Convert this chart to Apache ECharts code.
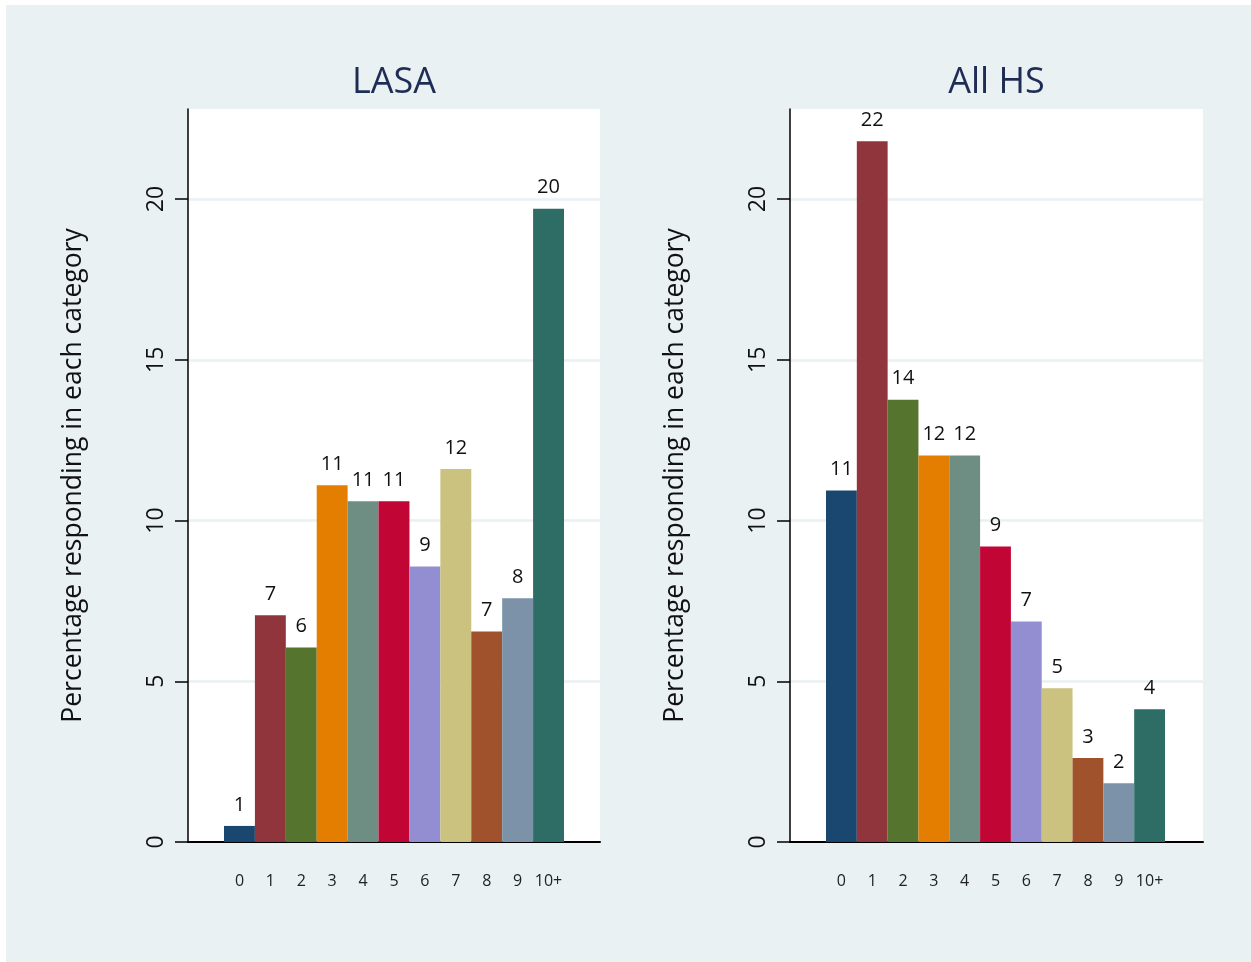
<!DOCTYPE html>
<html>
<head>
<meta charset="utf-8">
<script src="https://cdn.jsdelivr.net/npm/echarts@6/dist/echarts.min.js"></script>
<style>
  html, body { margin: 0; padding: 0; background: #ffffff; }
  #c { position: absolute; left: 6px; top: 5px; width: 1245px; height: 957px; }
</style>
</head>
<body>
<div id="c"></div>
<script>
// ---- data ----
const categories = ['0', '1', '2', '3', '4', '5', '6', '7', '8', '9', '10+'];
const lasaValues = [0.5, 7.05, 6.05, 11.1, 10.6, 10.6, 8.57, 11.6, 6.55, 7.58, 19.7];
const allHsValues = [10.93, 21.8, 13.76, 12.02, 12.02, 9.19, 6.86, 4.78, 2.61, 1.83, 4.13];
const panelTitles = ['LASA', 'All HS'];
const yTicks = [0, 5, 10, 15, 20];
const barColors = ['#1a476f', '#90353b', '#55752f', '#e37e00', '#6e8e84', '#c10534',
                   '#938dd2', '#cac27e', '#a0522d', '#7b92a8', '#2d6d66'];
const yName = 'Percentage responding in each category';

const FONT = 'Open Sans';
const YMAX = 22.8;

const chart = echarts.init(document.getElementById('c'));

const outerGrids = [
  { left: 182, top: 104, width: 412, height: 733 },
  { left: 784, top: 104, width: 413, height: 733 }
];
const innerGrids = [
  { left: 218, top: 104, width: 340, height: 733 },
  { left: 820, top: 104, width: 339, height: 733 }
];

const grid = [], xAxis = [], yAxis = [], series = [], title = [];
const panelData = [lasaValues, allHsValues];

for (let p = 0; p < 2; p++) {
  const og = outerGrids[p], ig = innerGrids[p];
  grid.push(Object.assign({ show: true, backgroundColor: '#ffffff', borderWidth: 0 }, og));
  grid.push(Object.assign({ show: false }, ig));
  const oi = p * 2, ii = p * 2 + 1;
  // outer axes
  xAxis.push({
    gridIndex: oi, type: 'value', min: 0, max: 1,
    axisLine: { show: true, lineStyle: { color: '#000', width: 2 } },
    axisTick: { show: false }, axisLabel: { show: false }, splitLine: { show: false }
  });
  yAxis.push({
    gridIndex: oi, type: 'value', min: 0, max: YMAX,
    name: yName, nameLocation: 'middle', nameRotate: 90, nameGap: 101,
    nameTextStyle: { fontFamily: FONT, fontSize: 26.5, color: '#111' },
    axisLine: { show: true, lineStyle: { color: '#000', width: 1.5 } },
    axisTick: { show: true, length: 13, customValues: yTicks, lineStyle: { color: '#000', width: 1.5 } },
    axisLabel: { show: true, rotate: 90, customValues: yTicks, margin: 20,
                 fontFamily: FONT, fontSize: 23, color: '#111' },
    splitLine: { show: true, lineStyle: { color: '#e9f1f3', width: 2.5 } }
  });
  // inner axes
  xAxis.push({
    gridIndex: ii, type: 'category', data: categories,
    axisLine: { show: false }, axisTick: { show: false },
    axisLabel: { show: true, margin: 31, fontFamily: FONT, fontSize: 16, color: '#222', interval: 0 },
    splitLine: { show: false }
  });
  yAxis.push({
    gridIndex: ii, type: 'value', min: 0, max: YMAX, show: false
  });
  series.push({
    type: 'bar', xAxisIndex: ii, yAxisIndex: ii,
    barWidth: '100%', barCategoryGap: 0,
    data: panelData[p].map((v, i) => ({ value: v, itemStyle: { color: barColors[i] } })),
    label: {
      show: true, position: 'top', distance: 11,
      fontFamily: FONT, fontSize: 20, color: '#111',
      formatter: (d) => String(Math.round(d.value))
    },
    itemStyle: { borderWidth: 0 },
    silent: true
  });
  title.push({
    text: panelTitles[p], left: og.left + og.width / 2 - 5, top: 55, textAlign: 'center',
    textStyle: { fontFamily: FONT, fontSize: 36, fontWeight: 'normal', color: '#1f2d55' }
  });
}

chart.setOption({
  backgroundColor: '#e9f1f3',
  animation: false,
  title, grid, xAxis, yAxis, series
});
</script>
</body>
</html>
